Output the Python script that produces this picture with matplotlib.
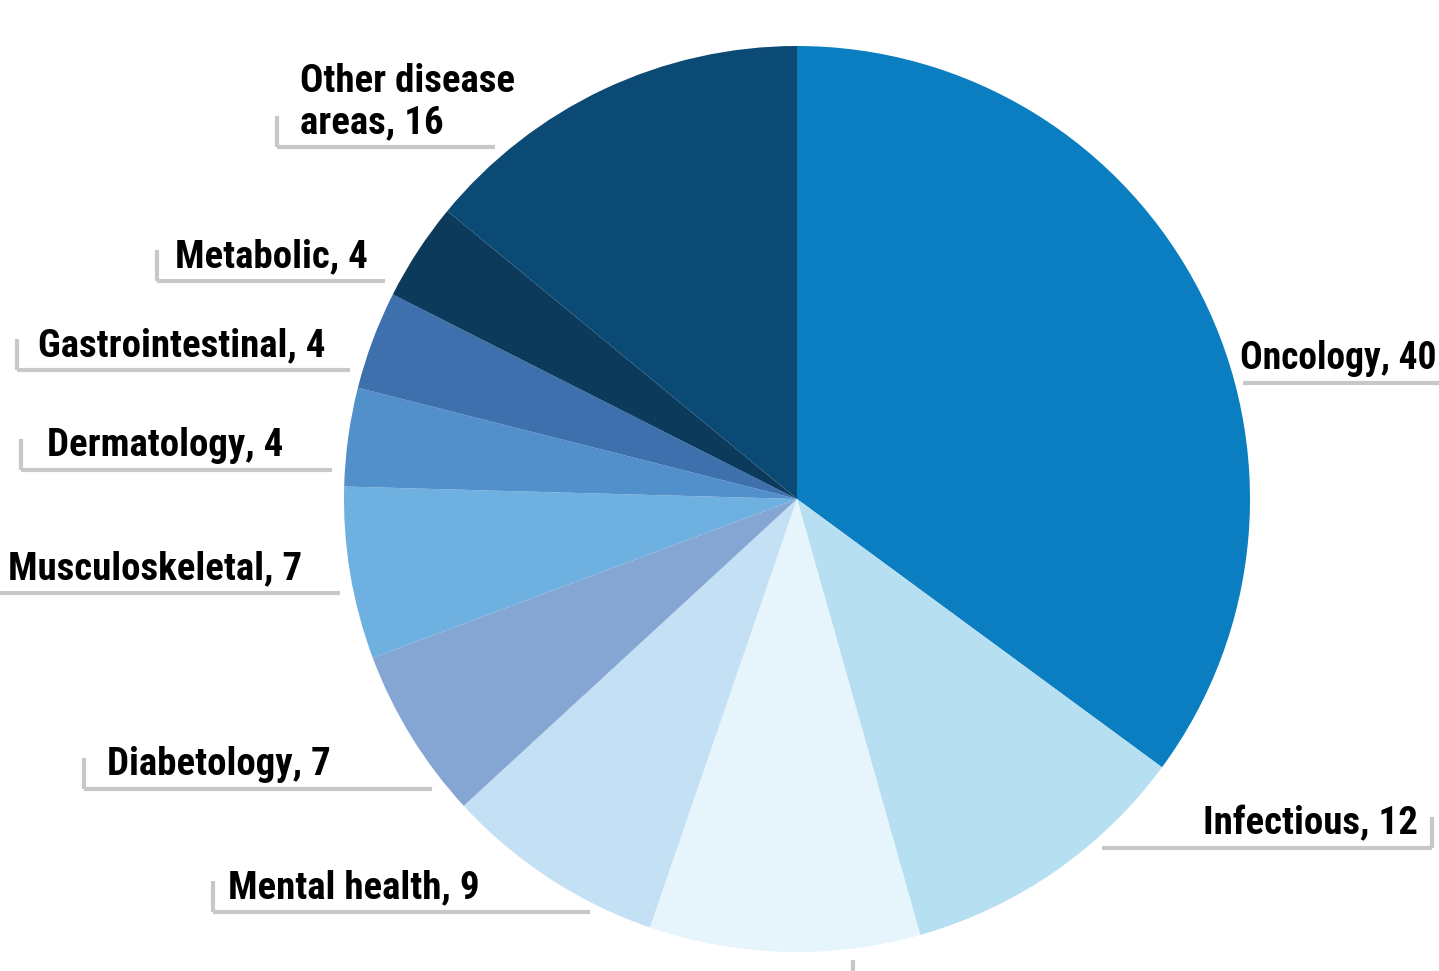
import matplotlib.pyplot as plt

# disease areas, clockwise from 12 o'clock
areas = ["Oncology", "Infectious", "", "Mental health", "Diabetology",
         "Musculoskeletal", "Dermatology", "Gastrointestinal", "Metabolic",
         "Other disease\nareas"]
counts = [40, 12, 11, 9, 7, 7, 4, 4, 4, 16]
colors = ["#0a7ec0", "#b6dff2", "#e6f4fc", "#c4e0f5", "#85a5d3",
          "#6eb0e0", "#5290cb", "#3f70ae", "#0b3a5a", "#0b4a75"]

W, H = 1439, 971
CX, CY, R = 797, H - 499, 453
GREY = "#c8c8c8"

# label placement in pixels: text x, underline y (from top), line x0, x1, tick x
label_pos = {
    "Oncology": (1240, 383, 1243, 1439, None),
    "Infectious": (1418, 848, 1102, 1432, 1432),
    "": (None, 991, 853, 853, 853),
    "Mental health": (228, 912, 213, 590, 213),
    "Diabetology": (107, 789, 84, 432, 84),
    "Musculoskeletal": (8, 593, 0, 340, None),
    "Dermatology": (47, 470, 21, 332, 21),
    "Gastrointestinal": (38, 370, 17, 350, 17),
    "Metabolic": (175, 281, 157, 385, 157),
    "Other disease\nareas": (300, 147, 277, 495, 277),
}


def main():
    plt.rcParams["font.family"] = ["Roboto Condensed", "DejaVu Sans"]
    fig = plt.figure(figsize=(W / 100, H / 100), dpi=100)
    ax = fig.add_axes([0, 0, 1, 1])

    ax.pie(counts, colors=colors, startangle=90, counterclock=False,
           center=(CX, CY), radius=R, frame=True,
           wedgeprops=dict(linewidth=0))
    ax.set_xlim(0, W)
    ax.set_ylim(0, H)
    ax.set_aspect("equal")
    ax.axis("off")

    for name, n in zip(areas, counts):
        tx, uy, x0, x1, tick = label_pos[name]
        y = H - uy
        ax.plot([x0, x1], [y, y], color=GREY, lw=3, solid_capstyle="butt")
        if tick is not None:
            ax.plot([tick, tick], [y, y + 31], color=GREY, lw=3,
                    solid_capstyle="butt")
        if not name:
            continue
        ha = "right" if name == "Infectious" else "left"
        # the right-hand label sits against the edge, so keep it a touch smaller
        size = 27 if name == "Oncology" else 28
        ax.text(tx, y + 14, f"{name}, {n}", ha=ha, va="baseline",
                fontsize=size, fontweight="bold", linespacing=1.15)

    fig.savefig("out.png", dpi=100)


if __name__ == "__main__":
    main()
